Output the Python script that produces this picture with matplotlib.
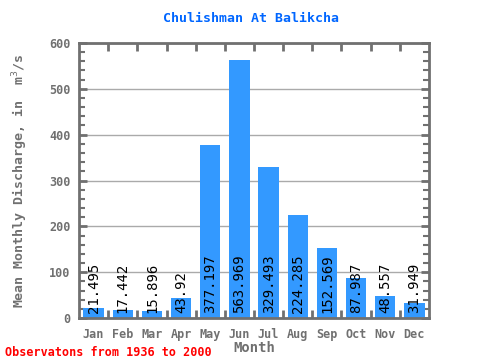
import matplotlib
matplotlib.use("Agg")
import matplotlib.pyplot as plt
from matplotlib.ticker import MultipleLocator, FixedLocator

months = ["Jan", "Feb", "Mar", "Apr", "May", "Jun", "Jul", "Aug", "Sep", "Oct", "Nov", "Dec"]
flows = [21.495, 17.442, 15.896, 43.92, 377.197, 563.969, 329.493, 224.285, 152.569, 87.987, 48.557, 31.949]
labels = ["21.495", "17.442", "15.896", "43.92", "377.197", "563.969", "329.493", "224.285", "152.569", "87.987", "48.557", "31.949"]

mono = ["DejaVu Sans Mono"]
gray = "#707070"

fig = plt.figure(figsize=(4.8, 3.6), dpi=100)
ax = fig.add_axes([79 / 480, 1 - 318 / 360, 350 / 480, 275 / 360])

x = list(range(len(months)))
ax.bar(x, flows, width=0.7, color="#3399ff", zorder=2)
for i, lab in enumerate(labels):
    ax.text(i, 11, lab, rotation=90, ha="center", va="bottom", fontsize=10,
            family=mono, color="black", zorder=3)

ax.set_xlim(-0.5, 11.5)
ax.set_ylim(0, 600)
ax.yaxis.set_major_locator(MultipleLocator(100))
ax.yaxis.set_minor_locator(MultipleLocator(20))
ax.grid(axis="y", which="major", color="#aaaaaa", linewidth=1, zorder=1)
ax.set_axisbelow(True)

ax.set_xticks(x)
ax.set_xticklabels(months)
ax.xaxis.set_minor_locator(FixedLocator([i + 0.5 for i in range(11)]))
ax.tick_params(axis="x", which="major", length=0, pad=7)
ax.tick_params(axis="x", which="minor", length=6, width=2, color=gray, top=True, bottom=True, direction="in")
ax.tick_params(axis="y", which="major", length=6, width=2, color=gray, right=True, direction="in", pad=6)
ax.tick_params(axis="y", which="minor", length=4, width=1.5, color=gray, right=True, direction="in")
ax.tick_params(labelsize=8.5, labelcolor=gray)

for lbl in ax.get_xticklabels() + ax.get_yticklabels():
    lbl.set_family(mono)
    lbl.set_fontweight("bold")

for s in ax.spines.values():
    s.set_color(gray)
    s.set_linewidth(2)

ax.set_xlabel("Month", family=mono, fontweight="bold", fontsize=10, color=gray, labelpad=0)
ax.set_ylabel("Mean Monthly Discharge, in  m$^3$/s", family=mono, fontweight="bold",
              fontsize=9.5, color=gray, labelpad=14)

fig.text(0.5 + 11 / 480, 1 - 18 / 360, "Chulishman At Balikcha", ha="center", va="center",
         family=mono, fontweight="bold", fontsize=9.5, color="#0066ff")
fig.text(5 / 480, 1 - 352 / 360, "Observatons from 1936 to 2000", ha="left", va="center",
         family=mono, fontweight="bold", fontsize=8.5, color="red")

fig.savefig("out.png", dpi=100)
